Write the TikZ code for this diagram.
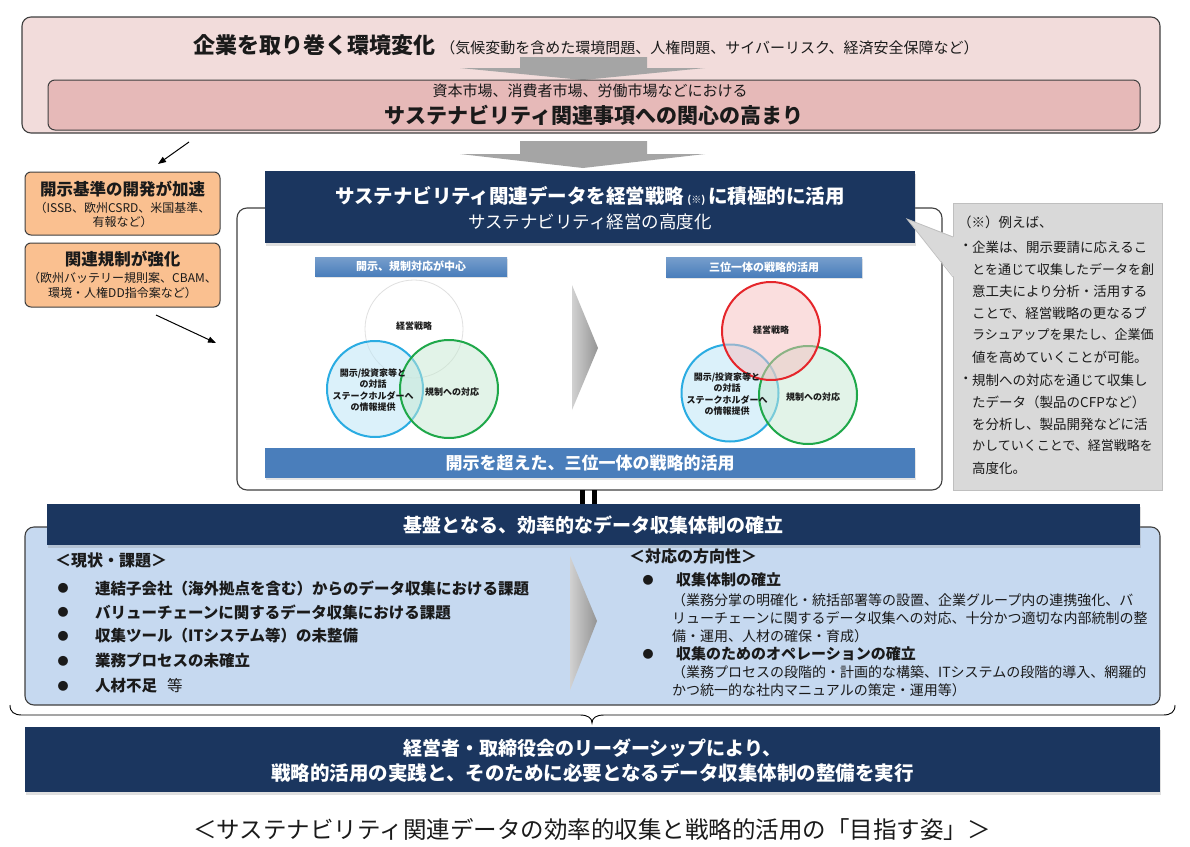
\documentclass[tikz,border=0pt]{standalone}
\usepackage{fontspec}
\setmainfont{Noto Sans CJK JP}
\usetikzlibrary{arrows.meta,shadows}
\definecolor{pinkA}{HTML}{F2DCDB}
\definecolor{pinkB}{HTML}{E6B9B8}
\definecolor{edge}{HTML}{3F3F3F}
\definecolor{orangeA}{HTML}{FAC090}
\definecolor{navy}{HTML}{1B365F}
\definecolor{midblue}{HTML}{4A7EBB}
\definecolor{lblue}{HTML}{C6D9F0}
\definecolor{notegray}{HTML}{D9D9D9}
\definecolor{noteedge}{HTML}{BFBFBF}
\definecolor{arrgray}{HTML}{A5A5A5}
\definecolor{txt}{HTML}{1A1A1A}
\definecolor{cblue}{HTML}{2AACE2}
\definecolor{cgreen}{HTML}{1FA84A}
\definecolor{cred}{HTML}{E5262B}
\newcommand{\myfs}[1]{\fontsize{#1}{#1}\selectfont}
\begin{document}
\begin{tikzpicture}[x=1pt,y=-1pt,
  box/.style={inner sep=0pt,outer sep=0pt},
  rbox/.style={box,rounded corners=9pt,draw=edge,line width=1.1pt},
  navybox/.style={box,fill=navy,drop shadow={opacity=0.25,shadow xshift=1pt,shadow yshift=-3pt}},
  lab/.style={box,shade,top color=midblue!75,bottom color=midblue,drop shadow={opacity=0.2,shadow xshift=1pt,shadow yshift=-2pt}},
  t/.style={inner sep=0pt,text=txt},
  wt/.style={inner sep=0pt,text=white},
  blk/.style={-{Triangle[length=8pt,width=6pt]},line width=1pt,black},
  vtext/.style={t,align=center,font=\fontsize{9}{11.5}\selectfont\bfseries}
]
\useasboundingbox (0,0) rectangle (1190,846);
\fill[white] (0,0) rectangle (1190,846);

% top pink area
\node[rbox,fill=pinkA,minimum width=1138,minimum height=116] (outer) at (591,75) {};
\fill[arrgray] (520,57) -- (647,57) -- (647,68) -- (705,68) -- (583,80) -- (460,68) -- (520,68) -- cycle;
\node[rbox,rounded corners=7pt,fill=pinkB,line width=1pt,minimum width=1092,minimum height=50] (inner) at (594,105) {};
\node[t] (title) at (586,45) {{\myfs{22}\bfseries 企業を取り巻く環境変化}\hspace{5pt}{\myfs{15}（気候変動を含めた環境問題、人権問題、サイバーリスク、経済安全保障など）}};
\node[t] (mkt) at (590,91) {\myfs{15}資本市場、消費者市場、労働市場などにおける};
\node[t] (interest) at (594,115) {\myfs{21}\bfseries サステナビリティ関連事項への関心の高まり};
\fill[arrgray] (520,141) -- (647,141) -- (647,154) -- (705,154) -- (583,168) -- (460,154) -- (520,154) -- cycle;

% orange boxes
\node[rbox,rounded corners=6pt,fill=orangeA,line width=1pt,minimum width=195,minimum height=63] (or1) at (122.5,203.5) {};
\node[t] (or1a) at (122.5,189) {\myfs{16.5}\bfseries 開示基準の開発が加速};
\node[t] (or1b) at (122.5,208) {\myfs{12}（ISSB、欧州CSRD、米国基準、};
\node[t] (or1c) at (122.5,222) {\myfs{12}有報など）};
\node[rbox,rounded corners=6pt,fill=orangeA,line width=1pt,minimum width=195,minimum height=64] (or2) at (122.5,275) {};
\node[t] (or2a) at (122.5,259) {\myfs{16.5}\bfseries 関連規制が強化};
\node[t] (or2b) at (122.5,278) {\myfs{12}（欧州バッテリー規則案、CBAM、};
\node[t] (or2c) at (122.5,293) {\myfs{12}環境・人権DD指令案など）};
\coordinate (a1s) at (189,142);
\coordinate (a1e) at (158,164);
\coordinate (a2s) at (156,315);
\coordinate (a2e) at (216,343);
\draw[blk] (a1s) -- (a1e);
\draw[blk] (a2s) -- (a2e);

% middle white box
\node[rbox,fill=white,rounded corners=10pt,line width=1.1pt,minimum width=705,minimum height=282] (mid) at (589.5,349) {};
\node[navybox,minimum width=650,minimum height=72] (navytop) at (590,207) {};
\node[wt] (nt1) at (590,196) {{\myfs{19.5}\bfseries サステナビリティ関連データを経営戦略}{\myfs{10}\bfseries\hspace{3pt}(※)\hspace{3pt}}{\myfs{19.5}\bfseries に積極的に活用}};
\node[wt] (nt2) at (590,222) {\myfs{17.5}サステナビリティ経営の高度化};

\node[lab,minimum width=192,minimum height=19] (labL) at (411,266.5) {};
\node[wt] (labLt) at (411,266.5) {\myfs{11}\bfseries 開示、規制対応が中心};
\node[lab,minimum width=196,minimum height=20] (labR) at (764,267) {};
\node[wt] (labRt) at (764,267) {\myfs{11}\bfseries 三位一体の戦略的活用};

% left venn
\node[circle,minimum size=98,box,draw=black!12,line width=0.8pt,fill=white] (cL0) at (414,329) {};
\node[circle,minimum size=96,box,draw=cblue,line width=2pt,fill=cblue!30,fill opacity=0.55] (cL1) at (375,389) {};
\node[circle,minimum size=98,box,draw=cgreen,line width=2pt,fill=cgreen!25,fill opacity=0.5] (cL2) at (449,389) {};
\node[vtext] (vL0) at (414,326) {経営戦略};
\node[vtext] (vL1) at (373,390) {開示/投資家等と\\の対話\\ステークホルダーへ\\の情報提供};
\node[vtext] (vL2) at (452,392) {規制への対応};

% right venn
\node[circle,minimum size=97,box,draw=cblue,line width=2pt,fill=cblue!30,fill opacity=0.55] (cR1) at (730,393) {};
\node[circle,minimum size=98,box,draw=cgreen,line width=2pt,fill=cgreen!25,fill opacity=0.5] (cR2) at (808,395) {};
\node[circle,minimum size=98,box,draw=cred,line width=2pt,fill=cred!30,fill opacity=0.5] (cR0) at (771,331) {};
\node[vtext] (vR0) at (771,330) {経営戦略};
\node[vtext] (vR1) at (727,394) {開示/投資家等と\\の対話\\ステークホルダーへ\\の情報提供};
\node[vtext] (vR2) at (813,397) {規制への対応};

% chevron
\shade[left color=black!18,right color=black!42] (572,285) -- (598,348) -- (572,410) -- cycle;

\node[box,fill=midblue,minimum width=650,minimum height=30,drop shadow={opacity=0.2,shadow xshift=1pt,shadow yshift=-2pt}] (bar) at (590,463) {};
\node[wt] (bart) at (590,463) {\myfs{17}\bfseries 開示を超えた、三位一体の戦略的活用};

% note box
\node[box,fill=notegray,draw=noteedge,line width=0.8pt,minimum width=209,minimum height=287] (note) at (1057.5,346.5) {};
\fill[notegray] (907,219) -- (954,237) -- (954,277) -- cycle;
\draw[noteedge,line width=0.8pt] (953,237) -- (907,219) -- (953,277);
\node[t,anchor=west] (n0) at (958,222) {\myfs{13.5}（※）例えば、};
\node[t,anchor=west] (nb1) at (959,247) {\myfs{13.5}・};
\node[t,anchor=west] (n1) at (972,247) {\myfs{13.5}企業は、開示要請に応えるこ};
\node[t,anchor=west] (n2) at (972,269) {\myfs{13}とを通じて収集したデータを創};
\node[t,anchor=west] (n3) at (972,291) {\myfs{13.5}意工夫により分析・活用する};
\node[t,anchor=west] (n4) at (972,313) {\myfs{13.5}ことで、経営戦略の更なるブ};
\node[t,anchor=west] (n5) at (972,335) {\myfs{13}ラシュアップを果たし、企業価};
\node[t,anchor=west] (n6) at (972,357) {\myfs{13.5}値を高めていくことが可能。};
\node[t,anchor=west] (nb2) at (959,380) {\myfs{13.5}・};
\node[t,anchor=west] (n7) at (972,380) {\myfs{13.5}規制への対応を通じて収集し};
\node[t,anchor=west] (n8) at (972,402) {\myfs{13.5}たデータ（製品のCFPなど）};
\node[t,anchor=west] (n9) at (972,424) {\myfs{13.5}を分析し、製品開発などに活};
\node[t,anchor=west] (n10) at (972,446) {\myfs{13}かしていくことで、経営戦略を};
\node[t,anchor=west] (n11) at (972,468) {\myfs{13.5}高度化。};

% lower blue section
\node[rbox,fill=lblue,rounded corners=9pt,line width=1.1pt,minimum width=1135,minimum height=178] (low) at (592.5,616) {};
\draw[line width=5pt,black] (582.5,490) -- (582.5,505);
\draw[line width=5pt,black] (594.5,490) -- (594.5,505);
\node[navybox,minimum width=1093,minimum height=41] (navymid) at (593.5,524.5) {};
\node[wt] (nmt) at (593.5,525) {\myfs{19}\bfseries 基盤となる、効率的なデータ収集体制の確立};

\node[t,anchor=west] (cur) at (55,560) {\myfs{16}\bfseries ＜現状・課題＞};
\foreach \yy/\tx [count=\i] in {588/連結子会社（海外拠点を含む）からのデータ収集における課題,
  612/バリューチェーンに関するデータ収集における課題,
  636/収集ツール（ITシステム等）の未整備,
  661/業務プロセスの未確立}{
  \node[t] (lb\i) at (63,\yy) {\myfs{11}●};
  \node[t,anchor=west] (lt\i) at (95,\yy) {\myfs{15.5}\bfseries \tx};
}
\node[t] (lb5) at (63,686) {\myfs{11}●};
\node[t,anchor=west] (lt5) at (95,686) {{\myfs{15.5}\bfseries 人材不足}\hspace{10pt}{\myfs{15.5}等}};

\shade[left color=black!18,right color=black!42] (570,556) -- (597,621) -- (570,690) -- cycle;

\node[t,anchor=west] (dir) at (629,556) {\myfs{16}\bfseries ＜対応の方向性＞};
\node[t] (rb1) at (648,580) {\myfs{11}●};
\node[t,anchor=west] (r1) at (676,580) {\myfs{15}\bfseries 収集体制の確立};
\node[t,anchor=west] (r2) at (672,600) {\myfs{14}（業務分掌の明確化・統括部署等の設置、企業グループ内の連携強化、バ};
\node[t,anchor=west] (r3) at (672,618) {\myfs{14}リューチェーンに関するデータ収集への対応、十分かつ適切な内部統制の整};
\node[t,anchor=west] (r4) at (672,636) {\myfs{14}備・運用、人材の確保・育成）};
\node[t] (rb2) at (648,654) {\myfs{11}●};
\node[t,anchor=west] (r5) at (676,654) {\myfs{15}\bfseries 収集のためのオペレーションの確立};
\node[t,anchor=west] (r6) at (672,672) {\myfs{14}（業務プロセスの段階的・計画的な構築、ITシステムの段階的導入、網羅的};
\node[t,anchor=west] (r7) at (672,690) {\myfs{14}かつ統一的な社内マニュアルの策定・運用等）};

% brace
\draw[black,line width=0.9pt] (10,705) .. controls (10,712) and (14,715) .. (22,715) -- (580,715) .. controls (588,715) and (592,718) .. (592,723) .. controls (592,718) and (596,715) .. (604,715) -- (1163,715) .. controls (1171,715) and (1175,712) .. (1175,705);

% bottom navy
\node[navybox,minimum width=1135,minimum height=65] (navybot) at (592.5,759.5) {};
\node[wt] (nb1t) at (592.5,748) {\myfs{19}\bfseries 経営者・取締役会のリーダーシップにより、};
\node[wt] (nb2t) at (592.5,773) {\myfs{19.5}\bfseries 戦略的活用の実践と、そのために必要となるデータ収集体制の整備を実行};

\node[t] (cap) at (592,829) {\myfs{23.5}＜サステナビリティ関連データの効率的収集と戦略的活用の「目指す姿」＞};
\end{tikzpicture}
\end{document}
